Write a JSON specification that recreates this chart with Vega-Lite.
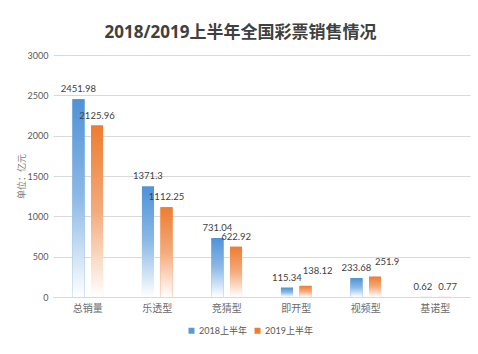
{
  "$schema": "https://vega.github.io/schema/vega-lite/v6.json",
  "width": 417,
  "height": 242,
  "autosize": {"type": "none"},
  "padding": {"left": 53, "top": 55, "right": 8, "bottom": 57},
  "background": "white",
  "title": {
    "text": "2018/2019上半年全国彩票销售情况",
    "fontSize": 17,
    "fontWeight": "bold",
    "color": "#404040",
    "font": "Open Sans, Noto Sans CJK SC",
    "anchor": "middle",
    "dx": -21,
    "offset": 9
  },
  "config": {
    "view": {"stroke": null},
    "font": "Lato, Noto Sans CJK SC"
  },
  "data": {
    "values": [
      {"type": "总销量", "series": "2018上半年", "value": 2451.98},
      {"type": "总销量", "series": "2019上半年", "value": 2125.96},
      {"type": "乐透型", "series": "2018上半年", "value": 1371.3},
      {"type": "乐透型", "series": "2019上半年", "value": 1112.25},
      {"type": "竞猜型", "series": "2018上半年", "value": 731.04},
      {"type": "竞猜型", "series": "2019上半年", "value": 622.92},
      {"type": "即开型", "series": "2018上半年", "value": 115.34},
      {"type": "即开型", "series": "2019上半年", "value": 138.12},
      {"type": "视频型", "series": "2018上半年", "value": 233.68},
      {"type": "视频型", "series": "2019上半年", "value": 251.9},
      {"type": "基诺型", "series": "2018上半年", "value": 0.62},
      {"type": "基诺型", "series": "2019上半年", "value": 0.77}
    ]
  },
  "encoding": {
    "x": {
      "field": "type",
      "type": "nominal",
      "sort": null,
      "scale": {"paddingInner": 0.56, "paddingOuter": 0.28},
      "axis": {
        "title": null,
        "labelAngle": 0,
        "domainColor": "#d9d9d9",
        "ticks": false,
        "labelPadding": 6,
        "labelFontSize": 10,
        "labelColor": "#6b6b6b",
        "labelFont": "Noto Sans CJK SC"
      }
    },
    "xOffset": {
      "field": "series",
      "type": "nominal",
      "sort": null,
      "scale": {"domain": ["2018上半年", "2019上半年"], "paddingInner": 0.35}
    },
    "y": {
      "field": "value",
      "type": "quantitative",
      "scale": {"domain": [0, 3000]},
      "axis": {
        "values": [0, 500, 1000, 1500, 2000, 2500, 3000],
        "format": "d",
        "title": "单位：亿元",
        "titleFontSize": 9,
        "titleFontWeight": "normal",
        "titleColor": "#7f7f7f",
        "titleFont": "Noto Sans CJK SC",
        "titlePadding": 1,
        "domain": false,
        "ticks": false,
        "gridColor": "#d9d9d9",
        "labelPadding": 5,
        "labelFontSize": 9,
        "labelColor": "#595959"
      }
    }
  },
  "layer": [
    {
      "mark": {"type": "bar"},
      "encoding": {
        "color": {
          "field": "series",
          "type": "nominal",
          "scale": {"domain": ["2018上半年", "2019上半年"], "range": ["#5B9BD5", "#ED7D31"]},
          "legend": {
            "title": null,
            "orient": "none",
            "legendX": 134,
            "legendY": 271,
            "direction": "horizontal",
            "symbolType": "square",
            "symbolSize": 36,
            "labelFontSize": 9,
            "labelColor": "#595959",
            "columnPadding": 6,
            "labelOffset": 3
          }
        }
      }
    },
    {
      "mark": {"type": "bar"},
      "encoding": {
        "fill": {
          "condition": {
            "test": "datum.series === '2018上半年'",
            "value": {
              "gradient": "linear", "x1": 0, "y1": 0, "x2": 0, "y2": 1,
              "stops": [
                {"offset": 0, "color": "#4F92D6"},
                {"offset": 0.5, "color": "#8DBAE7"},
                {"offset": 1, "color": "#FFFFFF"}
              ]
            }
          },
          "value": {
            "gradient": "linear", "x1": 0, "y1": 0, "x2": 0, "y2": 1,
            "stops": [
              {"offset": 0, "color": "#ED7D31"},
              {"offset": 0.5, "color": "#F4AB7B"},
              {"offset": 1, "color": "#FFFFFF"}
            ]
          }
        }
      }
    },
    {
      "transform": [{"filter": "datum.value >= 1 && !(datum.series === '2019上半年' && datum.value > 100 && datum.value < 300)"}],
      "mark": {"type": "text", "baseline": "bottom", "dy": -5, "fontSize": 9.5, "color": "#404040"},
      "encoding": {"text": {"field": "value", "type": "quantitative"}}
    },
    {
      "transform": [{"filter": "datum.series === '2019上半年' && datum.value > 100 && datum.value < 300"}],
      "mark": {"type": "text", "baseline": "bottom", "dx": 12, "dy": -10, "fontSize": 9.5, "color": "#404040"},
      "encoding": {"text": {"field": "value", "type": "quantitative"}}
    },
    {
      "transform": [{"filter": "datum.series === '2018上半年' && datum.value < 1"}],
      "mark": {"type": "text", "baseline": "bottom", "dx": -3, "dy": -5, "fontSize": 9.5, "color": "#404040"},
      "encoding": {"text": {"field": "value", "type": "quantitative"}}
    },
    {
      "transform": [{"filter": "datum.series === '2019上半年' && datum.value < 1"}],
      "mark": {"type": "text", "baseline": "bottom", "dx": 3, "dy": -5, "fontSize": 9.5, "color": "#404040"},
      "encoding": {"text": {"field": "value", "type": "quantitative"}}
    }
  ]
}
